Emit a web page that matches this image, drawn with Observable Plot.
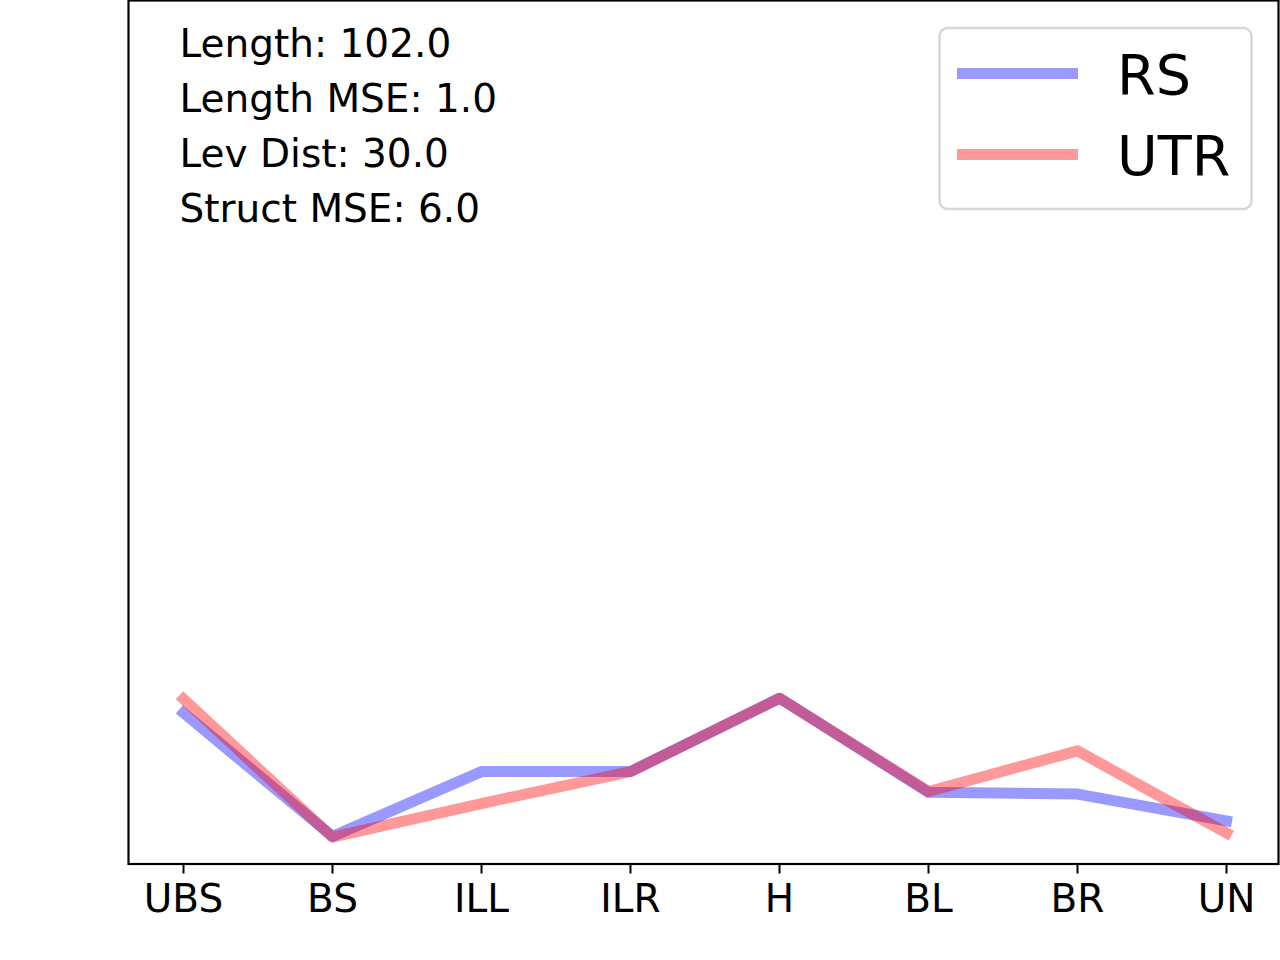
<!DOCTYPE html>
<html>
<head>
<meta charset="utf-8">
<script src="https://cdn.jsdelivr.net/npm/d3@7"></script>
<script src="https://cdn.jsdelivr.net/npm/@observablehq/plot@0.6"></script>
<style>
  html, body { margin: 0; padding: 0; background: #fff; }
  #chart svg { display: block; }
</style>
</head>
<body>
<div id="chart"></div>
<script>
const categories = ["UBS", "BS", "ILL", "ILR", "H", "BL", "BR", "UN"];
const rsValues  = [0.175, 0.032, 0.107, 0.107, 0.192, 0.083, 0.081, 0.050];
const utrValues = [0.191, 0.031, 0.070, 0.107, 0.192, 0.084, 0.131, 0.036];
const seriesNames = ["RS", "UTR"];
const seriesColors = ["blue", "red"];
const statLines = ["Length: 102.0", "Length MSE: 1.0", "Lev Dist: 30.0", "Struct MSE: 6.0"];

const rows = (vals) => categories.map((c, i) => ({cat: c, value: vals[i]}));
const rsData = rows(rsValues);
const utrData = rows(utrValues);

const font = "DejaVu Sans";
const lineStyle = {strokeWidth: 11, strokeOpacity: 0.4, strokeLinejoin: "round", strokeLinecap: "square"};

const plot = Plot.plot({
  width: 1280,
  height: 960,
  marginLeft: 128,
  marginRight: 2,
  marginTop: 0,
  marginBottom: 96.5,
  style: {fontFamily: font, background: "white", color: "black"},
  x: {type: "point", domain: categories, range: [180, 1228], padding: 0},
  y: {domain: [0, 1], axis: null},
  marks: [
    Plot.line(rsData, {x: "cat", y: "value", stroke: seriesColors[0], ...lineStyle}),
    Plot.line(utrData, {x: "cat", y: "value", stroke: seriesColors[1], ...lineStyle}),
    Plot.frame({stroke: "black", strokeWidth: 2.2}),
    Plot.axisX({tickSize: 10, tickPadding: 10, fontSize: 39, label: null, strokeWidth: 2}),
    Plot.text([statLines.join("\n")], {
      frameAnchor: "top-left", textAnchor: "start", lineAnchor: "top",
      dx: 51, dy: 17.7, lineHeight: 1.41, fontSize: 39, fill: "black"
    })
  ]
});

document.getElementById("chart").appendChild(plot);

// Legend (matplotlib-style, upper right inside the axes)
const svg = d3.select(plot);
const lg = svg.append("g").attr("font-family", font).attr("text-anchor", "start");
lg.append("rect")
  .attr("x", 939.5).attr("y", 28).attr("width", 312).attr("height", 181)
  .attr("rx", 8).attr("ry", 8)
  .attr("fill", "white").attr("fill-opacity", 0.8)
  .attr("stroke", "#d6d6d6").attr("stroke-width", 2.5);
const rowY = [73.5, 154.5];
seriesNames.forEach((name, i) => {
  lg.append("line")
    .attr("x1", 957).attr("x2", 1078).attr("y1", rowY[i]).attr("y2", rowY[i])
    .attr("stroke", seriesColors[i]).attr("stroke-opacity", 0.4).attr("stroke-width", 11);
  lg.append("text")
    .attr("x", 1117).attr("y", rowY[i] + 20)
    .attr("text-anchor", "start")
    .attr("font-size", 55.6).attr("fill", "black")
    .text(name);
});
</script>
</body>
</html>
